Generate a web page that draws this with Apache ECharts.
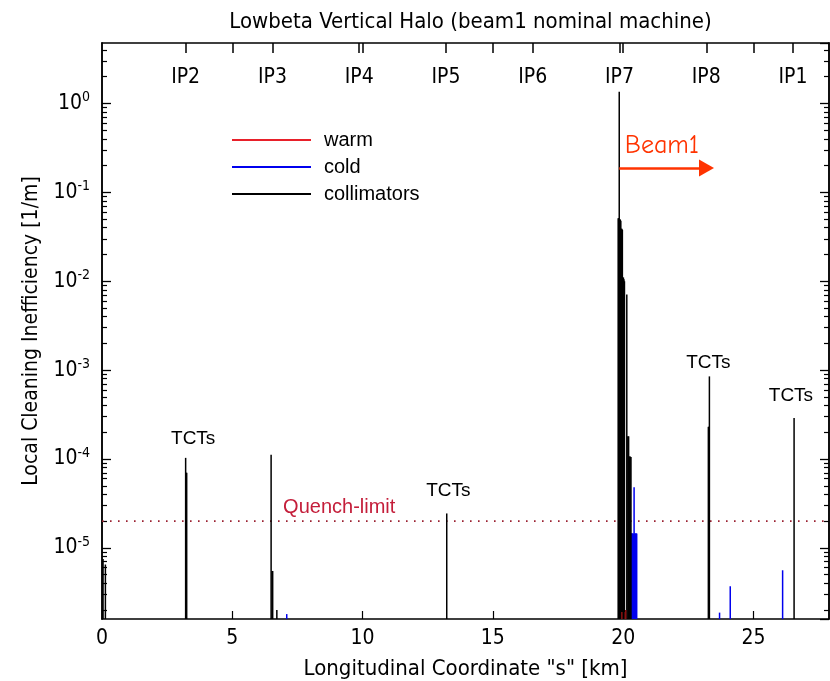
<!DOCTYPE html>
<html><head><meta charset="utf-8">
<script src="https://cdn.jsdelivr.net/npm/echarts@6/dist/echarts.min.js"></script>
<style>html,body{margin:0;padding:0;background:#fff}#c{width:830px;height:681px}</style>
</head><body><div id="c"></div>
<script>
// ---- data ----
const titleText = 'Lowbeta Vertical Halo (beam1 nominal machine)';
const xName = 'Longitudinal Coordinate "s" [km]';
const yName = 'Local Cleaning Inefficiency [1/m]';
const ipNames = ['IP2','IP3','IP4','IP5','IP6','IP7','IP8','IP1'];
const ipPos = [3.21, 6.54, 9.87, 13.2, 16.53, 19.86, 23.19, 26.52];
const xMajor = [0, 5, 10, 15, 20, 25];

const collX = [0.04, 0.13, 3.21, 3.23, 3.25, 6.49, 6.53, 6.55, 6.71, 13.23,
  19.81, 19.83, 19.85, 19.87, 19.89, 19.91, 19.93, 19.95, 19.97, 19.99, 20.01, 20.03, 20.05,
  20.14, 20.18, 20.21, 20.24, 20.27, 20.30, 23.27, 23.29, 23.31, 26.56];
const collY = [7.5e-6, 6.5e-6, 1.03e-4, 7.0e-5, 7.0e-5, 1.12e-4, 5.5e-6, 5.5e-6, 2.0e-6, 2.44e-5,
  0.051, 0.051, 1.35, 0.050, 0.049, 0.048, 0.039, 0.039, 0.038, 0.011, 0.011, 0.0105, 0.010,
  0.0071, 1.8e-4, 1.8e-4, 1.07e-4, 1.07e-4, 1.05e-4, 2.3e-4, 2.3e-4, 8.5e-4, 2.9e-4];

const coldX = [7.09, 20.27, 20.29, 20.31, 20.33, 20.35, 20.37, 20.39, 20.42, 20.44, 20.46, 20.48, 20.50, 20.52, 23.70, 24.11, 26.12];
const coldY = [1.8e-6, 1.45e-5, 1.45e-5, 1.45e-5, 1.45e-5, 1.45e-5, 1.45e-5, 1.45e-5, 4.8e-5, 1.45e-5, 1.45e-5, 1.45e-5, 1.45e-5, 1.45e-5, 1.87e-6, 3.7e-6, 5.6e-6];

const warmX = [19.95, 20.08, 20.10];
const warmY = [1.9e-6, 1.9e-6, 2.0e-6];

const quenchLimit = 2e-5;
const quenchLabel = ['Quench-limit', 6.95, 2.85e-5];
const tctX = [3.50, 13.29, 23.27, 26.44];
const tctY = [1.7e-4, 4.35e-5, 1.2e-3, 5.17e-4];
const beamLabel = ['Beam1', 21.49, 0.336];
const beamArrowX = [19.85, 23.2];
const beamArrowY = 0.188;

// ---- layout constants ----
const X_MIN = 0, X_MAX = 27.9;
const Y_MIN = Math.pow(10, -5.8), Y_MAX = Math.pow(10, 0.68);
const F = "'Liberation Sans Narrow','DejaVu Sans Condensed','Liberation Sans',sans-serif";
const FS = "'Liberation Sans',Arial,sans-serif";

const minorVals = [];
for (let d = -6; d <= 0; d++) for (let k = 2; k <= 9; k++) {
  const v = k * Math.pow(10, d);
  if (v > Y_MIN && v < Y_MAX) minorVals.push(v);
}

function spike(color, w) {
  return function (params, api) {
    const top = api.coord([api.value(0), api.value(1)]);
    const base = api.coord([api.value(0), Y_MIN]);
    return { type: 'line', shape: { x1: top[0], y1: top[1], x2: base[0], y2: base[1] },
      style: { stroke: color, lineWidth: w } };
  };
}
const pairs = (xs, ys) => xs.map((x, i) => [x, ys[i]]);

const logAxisBase = (pos) => ({
  type: 'log', min: Y_MIN, max: Y_MAX, position: pos, logBase: 10, offset: 0,
  splitLine: { show: false }
});
const minorAxis = (pos) => Object.assign(logAxisBase(pos), {
  axisLine: { show: true, lineStyle: { color: '#000', width: 1.5 } },
  axisTick: { show: true, inside: true, length: 5, customValues: minorVals, lineStyle: { color: '#000', width: 1.2 } },
  axisLabel: { show: false }
});

const chart = echarts.init(document.getElementById('c'), null, { renderer: 'canvas' });
chart.setOption({
  backgroundColor: '#fff',
  animation: false,
  title: { text: titleText, left: 465.5, textAlign: 'center', top: 6,
    textStyle: { fontFamily: F, fontSize: 22, fontWeight: 'normal', color: '#000' } },
  legend: {
    data: ['warm', 'cold', 'collimators'], orient: 'vertical', left: 232, top: 129, padding: 0,
    icon: 'rect', itemWidth: 79, itemHeight: 2, itemGap: 5,
    textStyle: { fontFamily: FS, fontSize: 20, color: '#000', padding: [0, 0, 0, 8], lineHeight: 22 }
  },
  grid: { left: 102, right: 1, top: 43, bottom: 62, containLabel: false, outerBoundsMode: 'none' },
  xAxis: [{
    type: 'value', min: X_MIN, max: X_MAX, interval: 5, position: 'bottom',
    name: xName, nameLocation: 'middle', nameGap: 39,
    nameTextStyle: { fontFamily: F, fontSize: 22, color: '#000' },
    axisLine: { show: true, lineStyle: { color: '#000', width: 1.5 } },
    axisTick: { show: true, inside: true, length: 8, lineStyle: { color: '#000', width: 1.2 } },
    axisLabel: { fontFamily: F, fontSize: 21, color: '#000', margin: 9,
      formatter: v => (Math.abs(v % 5) < 1e-9 ? String(v) : ''), showMaxLabel: false },
    splitLine: { show: false }
  }, {
    type: 'value', min: X_MIN, max: X_MAX, position: 'top',
    axisLine: { show: true, lineStyle: { color: '#000', width: 1.5 } },
    axisTick: { show: true, inside: true, length: 10, customValues: ipPos.concat([5, 10, 15, 20, 25]),
      lineStyle: { color: '#000', width: 1.5 } },
    axisLabel: { show: true, inside: true, margin: 24, customValues: ipPos, fontFamily: F, fontSize: 21, color: '#000',
      formatter: v => { let bi = 0; ipPos.forEach((p, i) => { if (Math.abs(p - v) < Math.abs(ipPos[bi] - v)) bi = i; }); return ipNames[bi]; } },
    splitLine: { show: false }
  }],
  yAxis: [Object.assign(logAxisBase('left'), {
    name: yName, nameLocation: 'middle', nameGap: 50, nameRotate: 90,
    nameTextStyle: { fontFamily: F, fontSize: 21, color: '#000' },
    axisLine: { show: true, lineStyle: { color: '#000', width: 1.5 } },
    axisTick: { show: true, inside: true, length: 9, lineStyle: { color: '#000', width: 1.3 } },
    axisLabel: { margin: 12, showMinLabel: false, showMaxLabel: false,
      formatter: v => { const l = Math.log10(v); const e = Math.round(l); if (Math.abs(l - e) > 1e-6) return ''; return '{a|10}{b|' + (e === 0 ? 0 : e) + '}'; },
      rich: { a: { fontFamily: F, fontSize: 21, color: '#000' },
              b: { fontFamily: F, fontSize: 14, color: '#000', padding: [0, 0, 12, 0] } } }
  }), minorAxis('left'), Object.assign(logAxisBase('right'), {
    axisLine: { show: true, lineStyle: { color: '#000', width: 1.5 } },
    axisTick: { show: true, inside: true, length: 9, lineStyle: { color: '#000', width: 1.3 } },
    axisLabel: { show: false }
  }), minorAxis('right')],
  series: [
    { name: 'quench', type: 'line', xAxisIndex: 0, yAxisIndex: 0, silent: true, showSymbol: false, symbol: 'none', z: 2,
      data: [[X_MIN, quenchLimit], [X_MAX, quenchLimit]],
      lineStyle: { color: '#9a2030', width: 1.6, type: [1.6, 6.4] } },
    { name: 'cold', type: 'custom', xAxisIndex: 0, yAxisIndex: 0, color: '#0000ee', itemStyle: { color: '#0000ee' },
      renderItem: spike('#0000ee', 1.5), encode: { x: 0, y: 1 }, data: pairs(coldX, coldY), clip: true, z: 3 },
    { name: 'collimators', type: 'custom', xAxisIndex: 0, yAxisIndex: 0, color: '#000', itemStyle: { color: '#000' },
      renderItem: spike('#000000', 1.5), encode: { x: 0, y: 1 }, data: pairs(collX, collY), clip: true, z: 4 },
    { name: 'warm', type: 'custom', xAxisIndex: 0, yAxisIndex: 0, color: '#e8202a', itemStyle: { color: '#e8202a' },
      renderItem: spike('#8a1010', 1.5), encode: { x: 0, y: 1 }, data: pairs(warmX, warmY), clip: true, z: 5 },
    { name: 'annotations', type: 'line', xAxisIndex: 0, yAxisIndex: 0, data: [], silent: true, z: 6,
      markLine: { silent: true, animation: false, label: { show: false },
        data: [
          [{ coord: [beamArrowX[0], beamArrowY], symbol: 'none', lineStyle: { color: '#ff3300', width: 2.5, type: 'solid' } },
           { coord: [beamArrowX[1], beamArrowY], symbol: 'triangle', symbolSize: [17, 15] }]
        ] },
      markPoint: { silent: true, animation: false, symbol: 'circle', symbolSize: 0,
        data: tctX.map((x, i) => ({ coord: [x, tctY[i]], value: 'TCTs',
          label: { show: true, position: 'inside', formatter: 'TCTs', fontFamily: FS, fontSize: 19, color: '#000' } }))
          .concat([
            { coord: [quenchLabel[1], quenchLabel[2]], value: quenchLabel[0],
              label: { show: true, position: 'right', distance: 0, formatter: quenchLabel[0], fontFamily: FS, fontSize: 20, color: '#c41e3a' } },
            { coord: [beamLabel[1], beamLabel[2]], value: beamLabel[0],
              label: { show: true, position: 'inside', formatter: beamLabel[0], fontFamily: "'Comic Neue','Liberation Sans',sans-serif", fontSize: 26, color: '#ff3300' } }
          ]) }
    }
  ]
});
</script></body></html>
